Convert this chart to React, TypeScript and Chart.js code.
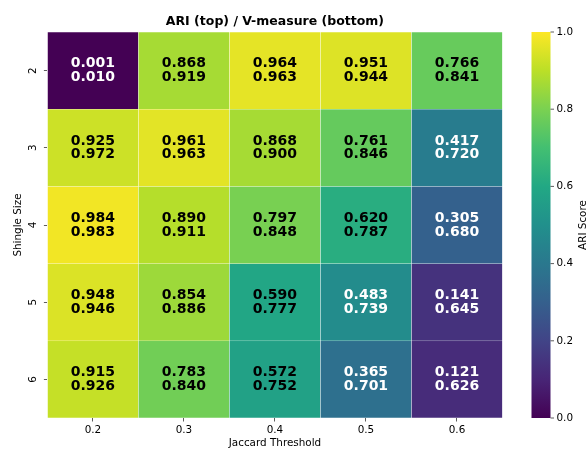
import React, { useEffect, useRef } from 'react';
import { Chart, registerables } from 'chart.js';

Chart.register(...registerables);

// ---- data ----
const THRESHOLDS = ['0.2', '0.3', '0.4', '0.5', '0.6'];
const SHINGLES = ['2', '3', '4', '5', '6'];

const ARI_S2 = [0.001, 0.868, 0.964, 0.951, 0.766];
const ARI_S3 = [0.925, 0.961, 0.868, 0.761, 0.417];
const ARI_S4 = [0.984, 0.890, 0.797, 0.620, 0.305];
const ARI_S5 = [0.948, 0.854, 0.590, 0.483, 0.141];
const ARI_S6 = [0.915, 0.783, 0.572, 0.365, 0.121];

const VM_S2 = [0.010, 0.919, 0.963, 0.944, 0.841];
const VM_S3 = [0.972, 0.963, 0.900, 0.846, 0.720];
const VM_S4 = [0.983, 0.911, 0.848, 0.787, 0.680];
const VM_S5 = [0.946, 0.886, 0.777, 0.739, 0.645];
const VM_S6 = [0.926, 0.840, 0.752, 0.701, 0.626];

const ARI = [ARI_S2, ARI_S3, ARI_S4, ARI_S5, ARI_S6];
const VM = [VM_S2, VM_S3, VM_S4, VM_S5, VM_S6];

const CB_TICKS = [0, 0.2, 0.4, 0.6, 0.8, 1.0];
const CB_LABEL = 'ARI Score';
const TITLE = 'ARI (top) / V-measure (bottom)';
const X_TITLE = 'Jaccard Threshold';
const Y_TITLE = 'Shingle Size';

// viridis colormap samples at 0, 0.1, ..., 1
const VIRIDIS = ['#440154', '#482576', '#414487', '#35608d', '#2a788e', '#21908c', '#22a884', '#43bf71', '#7ad151', '#bbdf27', '#fde725'];

function hexToRgb(h: string) {
  return [parseInt(h.slice(1, 3), 16), parseInt(h.slice(3, 5), 16), parseInt(h.slice(5, 7), 16)];
}
function viridis(t: number) {
  const v = Math.max(0, Math.min(1, t)) * (VIRIDIS.length - 1);
  const i = Math.min(Math.floor(v), VIRIDIS.length - 2);
  const f = v - i;
  const a = hexToRgb(VIRIDIS[i]);
  const b = hexToRgb(VIRIDIS[i + 1]);
  const c = a.map((x, k) => Math.round(x + (b[k] - x) * f));
  return `rgb(${c[0]},${c[1]},${c[2]})`;
}

const FONT = '"DejaVu Sans", sans-serif';

export default function App() {
  const ref = useRef<HTMLCanvasElement | null>(null);

  useEffect(() => {
    document.body.style.margin = '0';
    const canvas = ref.current;
    if (!canvas) return;

    const cellPlugin = {
      id: 'cellText',
      afterDatasetsDraw(chart: any) {
        const ctx = chart.ctx;
        ctx.save();
        ctx.font = `bold 14px ${FONT}`;
        ctx.textAlign = 'center';
        ctx.textBaseline = 'middle';
        chart.data.datasets.forEach((ds: any, r: number) => {
          const meta = chart.getDatasetMeta(r);
          meta.data.forEach((el: any, c: number) => {
            const p = el.getCenterPoint();
            const a = ARI[r][c];
            ctx.fillStyle = a < 0.5 ? '#ffffff' : '#000000';
            ctx.fillText(a.toFixed(3), p.x, p.y - 6.9);
            ctx.fillText(VM[r][c].toFixed(3), p.x, p.y + 6.9);
          });
        });
        ctx.restore();
      },
    };

    const colorbarPlugin = {
      id: 'colorbar',
      afterDraw(chart: any) {
        const ctx = chart.ctx;
        const cb = chart.scales.cb;
        const area = chart.chartArea;
        const x0 = area.right + 29;
        const w = 19;
        const yTop = cb.getPixelForValue(1);
        const yBot = cb.getPixelForValue(0);
        ctx.save();
        const g = ctx.createLinearGradient(0, yBot, 0, yTop);
        VIRIDIS.forEach((col, i) => g.addColorStop(i / (VIRIDIS.length - 1), col));
        ctx.fillStyle = g;
        ctx.fillRect(x0, yTop, w, yBot - yTop);
        ctx.strokeStyle = '#333';
        ctx.lineWidth = 0.8;
        ctx.fillStyle = '#000';
        ctx.font = `10.4px ${FONT}`;
        ctx.textAlign = 'left';
        ctx.textBaseline = 'middle';
        CB_TICKS.forEach((t) => {
          const y = cb.getPixelForValue(t);
          ctx.beginPath();
          ctx.moveTo(x0 + w, y);
          ctx.lineTo(x0 + w + 3.5, y);
          ctx.stroke();
          ctx.fillText(t.toFixed(1), x0 + w + 6, y);
        });
        ctx.translate(x0 + w + 33, (yTop + yBot) / 2);
        ctx.rotate(-Math.PI / 2);
        ctx.textAlign = 'center';
        ctx.fillText(CB_LABEL, 0, 0);
        ctx.restore();
      },
    };

    const datasets = SHINGLES.map((s, r) => ({
      label: s,
      data: THRESHOLDS.map(() => [r, r + 1]),
      backgroundColor: ARI[r].map((v) => viridis(v)),
      borderColor: 'rgba(255,255,255,0.35)',
      borderWidth: 0.5,
      borderSkipped: false,
      grouped: false,
      barPercentage: 1,
      categoryPercentage: 1,
    }));

    const chart = new Chart(canvas, {
      type: 'bar',
      data: { labels: THRESHOLDS, datasets } as any,
      options: {
        animation: false,
        responsive: false,
        devicePixelRatio: 1,
        layout: { padding: { left: 0, right: 84.5, top: 0, bottom: 0 } },
        plugins: {
          legend: { display: false },
          tooltip: { enabled: false },
          title: {
            display: true,
            text: TITLE,
            fullSize: false,
            color: '#000',
            font: { family: FONT, size: 12.5, weight: 'bold' },
            padding: { top: 14.5, bottom: 2.5 },
          },
        },
        scales: {
          x: {
            type: 'category',
            offset: true,
            afterFit: (s: any) => { s.height = 32; },
            grid: { offset: false, drawOnChartArea: false, drawTicks: true, tickLength: 3.5, color: '#333', lineWidth: 0.8 },
            border: { display: false },
            ticks: { color: '#000', font: { family: FONT, size: 10.4 }, padding: 3, maxRotation: 0, minRotation: 0 },
            title: { display: true, text: X_TITLE, color: '#000', font: { family: FONT, size: 10.4 }, padding: { top: 0, bottom: 0 } },
          },
          y: {
            type: 'linear',
            min: 0,
            max: 5,
            reverse: true,
            afterFit: (s: any) => { s.width = 47.4; },
            afterBuildTicks: (s: any) => { s.ticks = SHINGLES.map((_, i) => ({ value: i + 0.5 })); },
            grid: { drawOnChartArea: false, drawTicks: true, tickLength: 3.5, color: '#333', lineWidth: 0.8 },
            border: { display: false },
            ticks: {
              color: '#000',
              font: { family: FONT, size: 10.4 },
              padding: 7,
              minRotation: 90,
              maxRotation: 90,
              crossAlign: 'center',
              callback: (_v: any, i: number) => SHINGLES[i],
            },
            title: { display: true, text: Y_TITLE, color: '#000', font: { family: FONT, size: 10.4 }, padding: { top: 12, bottom: 0 } },
          },
          cb: {
            type: 'linear',
            position: 'right',
            display: false,
            min: 0,
            max: 1,
          },
        },
      } as any,
      plugins: [cellPlugin, colorbarPlugin],
    });

    return () => chart.destroy();
  }, []);

  return (
    <div style={{ width: 587, height: 450 }}>
      <canvas ref={ref} width={587} height={450} style={{ display: 'block' }} />
    </div>
  );
}
